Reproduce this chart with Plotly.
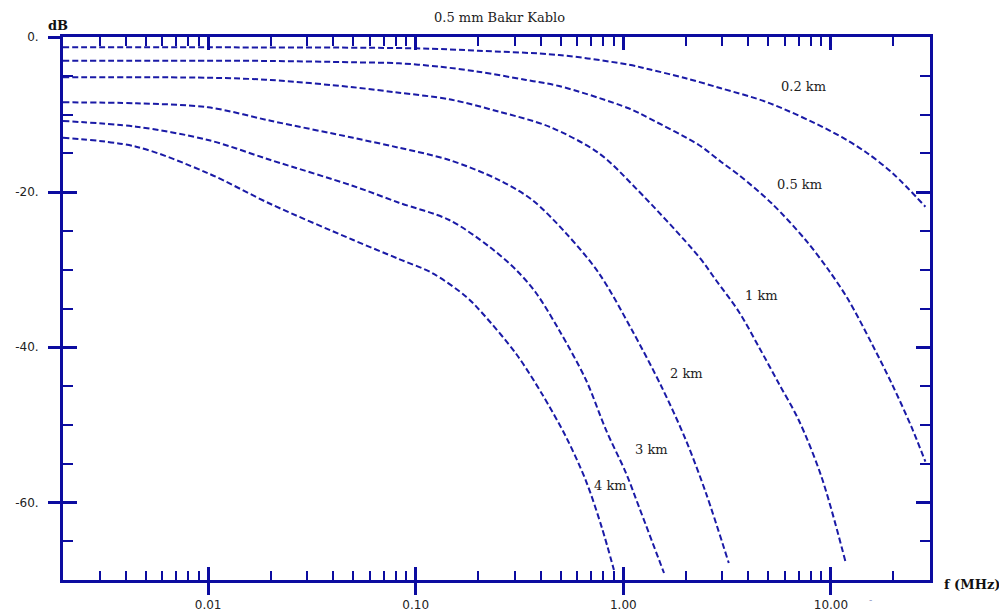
import math
import plotly.graph_objects as go

# ---------------- data ----------------
labels = ["0.2 km", "0.5 km", "1 km", "2 km", "3 km", "4 km"]

f_02 = [0.002, 0.01, 0.1, 0.2, 0.49, 1.06, 1.33, 2.0, 2.95, 4.96, 9.96, 14.7, 20.0, 28.5]
db_02 = [-1.33, -1.33, -1.46, -1.77, -2.32, -3.57, -4.16, -5.32, -6.61, -8.44, -12.12, -14.83, -17.66, -21.88]

f_05 = [0.002, 0.01, 0.02, 0.05, 0.083, 0.13, 0.2, 0.34, 0.49, 1.06, 1.33, 2.31, 2.95, 3.6, 5.18, 7.55,
        9.74, 12.15, 15.7, 19.6, 24.4, 28.5]
db_05 = [-3.06, -3.06, -3.09, -3.26, -3.39, -3.83, -4.47, -5.54, -6.32, -9.19, -10.48, -13.92, -16.08,
         -17.79, -21.44, -26.17, -30.04, -33.91, -39.49, -44.64, -50.24, -54.75]

f_1 = [0.002, 0.01, 0.02, 0.05, 0.083, 0.145, 0.252, 0.439, 0.763, 1.15, 2.31, 2.79, 3.6, 4.49, 5.6,
       6.99, 9.01, 11.76]
db_1 = [-5.20, -5.25, -5.54, -6.48, -7.18, -8.03, -9.63, -11.56, -14.99, -19.51, -28.32, -31.33, -35.41,
        -39.93, -44.64, -49.37, -56.72, -67.68]

f_2 = [0.002, 0.0045, 0.01, 0.02, 0.05, 0.083, 0.145, 0.252, 0.364, 0.53, 0.763, 1.10, 1.53, 2.0, 2.5, 3.22]
db_2 = [-8.42, -8.55, -9.06, -10.80, -13.0, -14.27, -15.86, -18.44, -21.01, -25.31, -30.46, -37.77,
        -45.12, -51.95, -58.79, -67.81]

f_3 = [0.002, 0.0045, 0.01, 0.02, 0.05, 0.083, 0.145, 0.226, 0.305, 0.38, 0.49, 0.661, 0.825, 1.03, 1.19, 1.57]
db_3 = [-10.83, -11.56, -13.28, -15.86, -19.21, -21.36, -23.59, -27.03, -30.04, -33.0, -37.77, -44.22,
        -50.66, -56.21, -60.59, -69.10]

f_4 = [0.002, 0.0045, 0.01, 0.02, 0.05, 0.083, 0.12, 0.175, 0.209, 0.305, 0.406, 0.53, 0.661, 0.789, 0.901]
db_4 = [-12.98, -14.14, -17.57, -21.53, -26.17, -28.62, -30.43, -33.48, -35.58, -40.87, -46.03, -51.57,
        -57.24, -63.30, -68.71]

# label anchor positions (f in MHz, dB)
label_f = [7.38, 7.06, 4.63, 2.02, 1.36, 0.87]
label_db = [-6.32, -18.95, -33.26, -43.32, -53.24, -57.88]

x_major = [0.01, 0.1, 1, 10]
x_major_text = ["0.01", "0.10", "1.00", "10.00"]
x_minor = [m * 10 ** e for e in range(-3, 2) for m in range(2, 10)
           if 0.002 < m * 10 ** e < 30]
y_major = [0, -20, -40, -60]
y_major_text = ["0.", "-20.", "-40.", "-60."]
y_minor = [-5, -10, -15, -25, -30, -35, -45, -50, -55, -65]

title_text = "0.5 mm Bakır Kablo"
x_title = "f (MHz)"
y_title = "dB"

# ---------------- styling ----------------
AX = "#0c0ca0"
LC = "#1a1aa6"
SERIF = "DejaVu Serif, serif"
SANS = "DejaVu Sans, sans-serif"
XR = [math.log10(0.002), math.log10(30)]
YR = [-70, 0]

fig = go.Figure()
series = [(f_02, db_02), (f_05, db_05), (f_1, db_1), (f_2, db_2), (f_3, db_3), (f_4, db_4)]
for i, (name, (fx, fy)) in enumerate(zip(labels, series)):
    # split the curves over the two identical, overlaid axis pairs so both pairs are drawn
    ax_x, ax_y = ("x", "y") if i < 3 else ("x2", "y2")
    fig.add_trace(go.Scatter(
        x=fx, y=fy, mode="lines", name=name, xaxis=ax_x, yaxis=ax_y,
        line=dict(color=LC, width=2, dash="6px,3px", shape="spline", smoothing=0.9),
        showlegend=False, hoverinfo="x+y+name"))

annotations = []
for name, lx, ly in zip(labels, label_f, label_db):
    annotations.append(dict(x=math.log10(lx), y=ly, xref="x", yref="y", text=name,
                            xanchor="center", yanchor="middle",
                            showarrow=False, font=dict(family=SERIF, size=13, color="#222")))
annotations.append(dict(x=0.504, y=1.0368, xref="paper", yref="paper", text=title_text,
                        xanchor="center", yanchor="middle",
                        showarrow=False, font=dict(family=SERIF, size=13, color="#222")))
annotations.append(dict(x=-0.006, y=1.021, xref="paper", yref="paper", text="<b>" + y_title + "</b>",
                        xanchor="center", yanchor="middle",
                        showarrow=False, font=dict(family=SERIF, size=13, color="#111")))
annotations.append(dict(x=1.0485, y=-0.009, xref="paper", yref="paper", text="<b>" + x_title + "</b>",
                        xanchor="center", yanchor="middle",
                        showarrow=False, font=dict(family=SERIF, size=13, color="#111")))
annotations.append(dict(x=0.931, y=-0.037, xref="paper", yref="paper", text="-",
                        xanchor="center", yanchor="middle",
                        showarrow=False, font=dict(family=SANS, size=9, color="#8890c0")))

fig.update_layout(
    width=999, height=604,
    margin=dict(l=55, r=77, t=29, b=32, autoexpand=False),
    paper_bgcolor="white", plot_bgcolor="white",
    # outer axis pair: lines, labels, and the outside half of the major ticks
    xaxis=dict(type="log", range=XR, showgrid=False, zeroline=False, automargin=False,
               showline=True, linecolor=AX, linewidth=3, mirror=True,
               tickvals=x_major, ticktext=x_major_text, ticks="outside", ticklen=12,
               tickwidth=2.5, tickcolor=AX,
               tickfont=dict(family=SANS, size=12, color="#222")),
    yaxis=dict(range=YR, showgrid=False, zeroline=False, automargin=False,
               showline=True, linecolor=AX, linewidth=3, mirror=True,
               tickvals=y_major, ticktext=y_major_text, ticks="outside", ticklen=12,
               tickwidth=2.5, tickcolor=AX, ticklabelstandoff=7,
               tickfont=dict(family=SANS, size=12, color="#222")),
    # inner axis pair: inside ticks on all four sides
    xaxis2=dict(type="log", range=XR, overlaying="x", anchor="y2", side="bottom",
                showgrid=False, zeroline=False, automargin=False,
                showline=True, linecolor=AX, linewidth=3, mirror="ticks",
                tickvals=x_major, ticks="inside", ticklen=13, tickwidth=2.5, tickcolor=AX,
                showticklabels=False,
                minor=dict(tickvals=x_minor, ticks="inside", ticklen=9, tickwidth=2, tickcolor=AX)),
    yaxis2=dict(range=YR, overlaying="y", anchor="x2", side="left",
                showgrid=False, zeroline=False, automargin=False,
                showline=True, linecolor=AX, linewidth=3, mirror="ticks",
                tickvals=y_major, ticks="inside", ticklen=14, tickwidth=2.5, tickcolor=AX,
                showticklabels=False,
                minor=dict(tickvals=y_minor, ticks="inside", ticklen=10, tickwidth=2, tickcolor=AX)),
    annotations=annotations,
)

fig.write_html("out.html")
